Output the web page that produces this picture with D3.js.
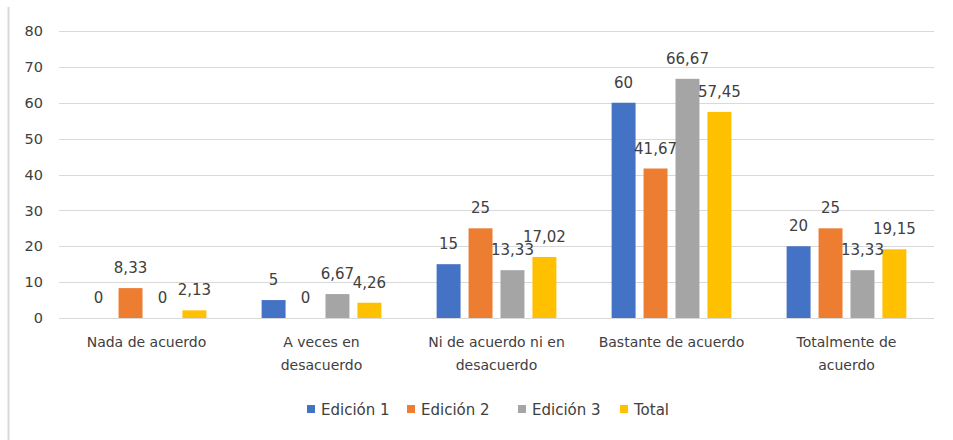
<!DOCTYPE html>
<html>
<head>
<meta charset="utf-8">
<script src="https://cdn.jsdelivr.net/npm/d3@7"></script>
<style>
  body { margin: 0; background: #fff; }
  svg { display: block; font-family: "DejaVu Sans", sans-serif; }
</style>
</head>
<body>
<svg id="chart" width="953" height="440"></svg>
<script>
// categories (line breaks as in the original wrapped labels)
var categories = ["Nada de acuerdo", "A veces en\ndesacuerdo", "Ni de acuerdo ni en\ndesacuerdo", "Bastante de acuerdo", "Totalmente de\nacuerdo"];
var seriesNames = ["Edición 1", "Edición 2", "Edición 3", "Total"];
var edicion1 = [0, 5, 15, 60, 20];
var edicion2 = [8.33, 0, 25, 41.67, 25];
var edicion3 = [0, 6.67, 13.33, 66.67, 13.33];
var total = [2.13, 4.26, 17.02, 57.45, 19.15];
var yTicks = [0, 10, 20, 30, 40, 50, 60, 70, 80];

var colors = ["#4472C4", "#ED7D31", "#A5A5A5", "#FFC000"];
var seriesValues = [edicion1, edicion2, edicion3, total];

var svg = d3.select("#chart");
var plotLeft = 59, plotRight = 934, plotTop = 31, plotBottom = 318;

// left frame edge
svg.append("line")
  .attr("x1", 8.5).attr("x2", 8.5)
  .attr("y1", 7).attr("y2", 440)
  .attr("stroke", "#d9d9d9").attr("stroke-width", 2);

var x0 = d3.scaleBand()
  .domain(d3.range(categories.length))
  .range([plotLeft, plotRight])
  .paddingInner(0.27)
  .paddingOuter(0.135);

var x1 = d3.scaleBand()
  .domain(d3.range(seriesNames.length))
  .range([0, x0.bandwidth()])
  .paddingInner(0.25)
  .paddingOuter(0.125);

var y = d3.scaleLinear().domain([0, 80]).range([plotBottom, plotTop]);

// gridlines
svg.append("g")
  .selectAll("line")
  .data(yTicks)
  .enter().append("line")
  .attr("x1", plotLeft).attr("x2", plotRight)
  .attr("y1", function (d) { return Math.round(y(d)) + 0.5; })
  .attr("y2", function (d) { return Math.round(y(d)) + 0.5; })
  .attr("stroke", "#d9d9d9");

// y axis labels
var yAxis = d3.axisLeft(y).tickValues(yTicks).tickSize(0).tickPadding(16);
var yg = svg.append("g").attr("transform", "translate(" + plotLeft + ",0)").call(yAxis);
yg.select(".domain").remove();
yg.selectAll("text")
  .attr("font-family", "DejaVu Sans")
  .attr("font-size", 14.5)
  .attr("fill", "#404040");

// bars
var rows = [];
for (var i = 0; i < categories.length; i++) {
  for (var j = 0; j < seriesNames.length; j++) {
    rows.push({ c: i, s: j, v: seriesValues[j][i] });
  }
}

svg.append("g")
  .selectAll("rect")
  .data(rows)
  .enter().append("rect")
  .attr("x", function (d) { return x0(d.c) + x1(d.s); })
  .attr("y", function (d) { return y(d.v); })
  .attr("width", x1.bandwidth())
  .attr("height", function (d) { return y(0) - y(d.v); })
  .attr("fill", function (d) { return colors[d.s]; });

// value labels
svg.append("g")
  .selectAll("text")
  .data(rows)
  .enter().append("text")
  .attr("x", function (d) { return x0(d.c) + x1(d.s) + x1.bandwidth() / 2; })
  .attr("y", function (d) { return y(d.v) - 15; })
  .attr("text-anchor", "middle")
  .attr("font-size", 15)
  .attr("fill", "#404040")
  .text(function (d) { return String(d.v).replace(".", ","); });

// category labels
var cat = svg.append("g")
  .selectAll("text")
  .data(categories)
  .enter().append("text")
  .attr("x", function (d, i) { return x0(i) + x0.bandwidth() / 2; })
  .attr("y", 347)
  .attr("text-anchor", "middle")
  .attr("font-size", 14)
  .attr("fill", "#404040");

cat.selectAll("tspan")
  .data(function (d) { return d.split("\n"); })
  .enter().append("tspan")
  .attr("x", function () { return d3.select(this.parentNode).attr("x"); })
  .attr("dy", function (d, k) { return k === 0 ? 0 : 23; })
  .text(function (d) { return d; });

// legend
var legendX = [307, 407, 518, 620];
var legend = svg.append("g")
  .selectAll("g")
  .data(seriesNames)
  .enter().append("g")
  .attr("transform", function (d, i) { return "translate(" + legendX[i] + ",405)"; });

legend.append("rect")
  .attr("width", 8).attr("height", 8)
  .attr("fill", function (d, i) { return colors[i]; });

legend.append("text")
  .attr("x", 14).attr("y", 9.5)
  .attr("font-size", 15)
  .attr("fill", "#404040")
  .text(function (d) { return d; });
</script>
</body>
</html>
